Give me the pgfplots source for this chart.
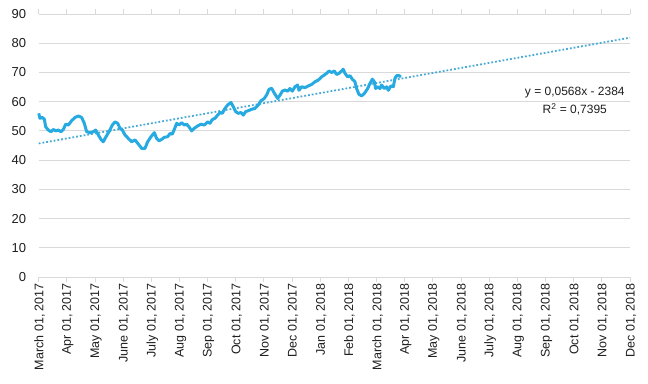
\documentclass[border=0pt]{standalone}
\usepackage{pgfplots}
\pgfplotsset{compat=1.18}
\usepackage{fontspec}
\setmainfont{Liberation Sans}
\usetikzlibrary{calc}
\definecolor{lineblue}{RGB}{38,170,225}
\definecolor{trendblue}{RGB}{72,170,214}
\definecolor{gridgray}{RGB}{217,217,217}
\definecolor{txt}{RGB}{30,30,30}
\begin{document}
\begin{tikzpicture}
\begin{axis}[
  scale only axis,
  width=591.3bp, height=263bp,
  xmin=0, xmax=21, ymin=0, ymax=90,
  ytick={0,10,...,90},
  xtick={0,...,21},
  xticklabels={{March 01, 2017},{Apr 01, 2017},{May 01, 2017},{June 01, 2017},{July 01, 2017},{Aug 01, 2017},{Sep 01, 2017},{Oct 01, 2017},{Nov 01, 2017},{Dec 01, 2017},{Jan 01, 2018},{Feb 01, 2018},{March 01, 2018},{Apr 01, 2018},{May 01, 2018},{June 01, 2018},{July 01, 2018},{Aug 01, 2018},{Sep 01, 2018},{Oct 01, 2018},{Nov 01, 2018},{Dec 01, 2018}},
  x tick label style={rotate=90, anchor=east, font=\fontsize{12.5bp}{14bp}\selectfont, text=txt, inner sep=1bp, yshift=-1bp},
  y tick label style={font=\fontsize{13bp}{15bp}\selectfont, text=txt, xshift=-4bp},
  /pgf/number format/assume math mode=true,
  axis line style={draw=none},
  ymajorgrids,
  grid style={draw=gridgray, line width=1bp},
  tick align=outside,
  major tick length=5bp,
  xtick style={draw=gridgray, line width=1bp},
  ytick style={draw=none},
  clip=false,
]
\addplot[draw=trendblue, line width=1.8bp, dash pattern=on 1.8bp off 2bp] coordinates {(0,45.7) (21,81.9)};
\addplot[draw=lineblue, line width=3bp, line join=round] table {
0 56
0.046 54.3
0.129 54.6
0.2 54
0.247 51.4
0.342 50.3
0.437 49.7
0.52 50.5
0.603 50
0.697 50.3
0.792 49.7
0.875 50.5
0.958 52.3
1.052 52
1.171 53.5
1.289 54.6
1.407 55.1
1.526 54.6
1.62 52.6
1.703 49.7
1.822 49.4
1.94 49.7
2.023 50.3
2.118 48.6
2.212 47.1
2.295 46.3
2.378 47.8
2.496 49.7
2.615 52
2.71 53.1
2.804 52.6
2.887 50.9
2.97 50.3
3.065 48.6
3.183 47.4
3.302 46.3
3.42 46.9
3.538 45.5
3.657 44
3.775 44
3.87 46.3
3.988 48
4.106 49.4
4.189 47.4
4.272 46.6
4.367 47.1
4.461 47.8
4.58 48
4.663 49.1
4.745 48.9
4.816 50.5
4.9 52.6
4.982 52
5.077 52.8
5.171 52
5.255 52.3
5.337 51.4
5.432 50
5.527 50.9
5.645 51.7
5.764 52.3
5.882 52
6.0 53.1
6.083 52.6
6.166 53.9
6.261 54.3
6.356 55.4
6.45 56.3
6.521 56
6.616 57.7
6.711 58.9
6.829 59.7
6.911 58.3
6.995 56.6
7.089 56
7.184 56.3
7.267 55.4
7.35 56.6
7.444 56.9
7.563 57.4
7.681 57.7
7.8 58.9
7.894 60.3
8.012 61.1
8.095 62.3
8.178 64.2
8.273 64.6
8.368 62.9
8.486 61.1
8.569 62.2
8.652 63.6
8.747 64
8.841 63.6
8.924 64.5
9.007 63.6
9.102 65.1
9.196 65.7
9.244 63.9
9.338 65.1
9.457 64.8
9.575 65.4
9.694 65.9
9.812 66.8
9.93 67.4
10.049 68.5
10.143 69.1
10.226 69.7
10.309 70.5
10.404 70
10.498 70.5
10.581 69.3
10.664 69.7
10.759 70.5
10.818 71.1
10.877 69.7
10.972 68.5
11.055 68.9
11.137 67.7
11.232 66.8
11.291 64.5
11.374 62.5
11.469 62
11.564 62.8
11.682 64.5
11.765 66.2
11.848 67.7
11.919 66.8
11.967 64.5
12.037 65.1
12.12 64.5
12.179 65.7
12.274 64.5
12.357 65.1
12.416 63.9
12.51 65.4
12.593 65.1
12.653 68
12.712 68.9
12.795 68.9
12.866 68.5
};
\node[align=center, font=\fontsize{12bp}{18bp}\selectfont, text=txt] at (axis cs:19.04,60.2) {y = 0,0568x - 2384\\R\textsuperscript{2} = 0,7395};
\coordinate (O) at (rel axis cs:0,0);
\end{axis}
\pgfresetboundingbox
\path[use as bounding box] ($(O)+(-38.7bp,-107bp)$) rectangle ($(O)+(609.3bp,277bp)$);
\end{tikzpicture}
\end{document}
